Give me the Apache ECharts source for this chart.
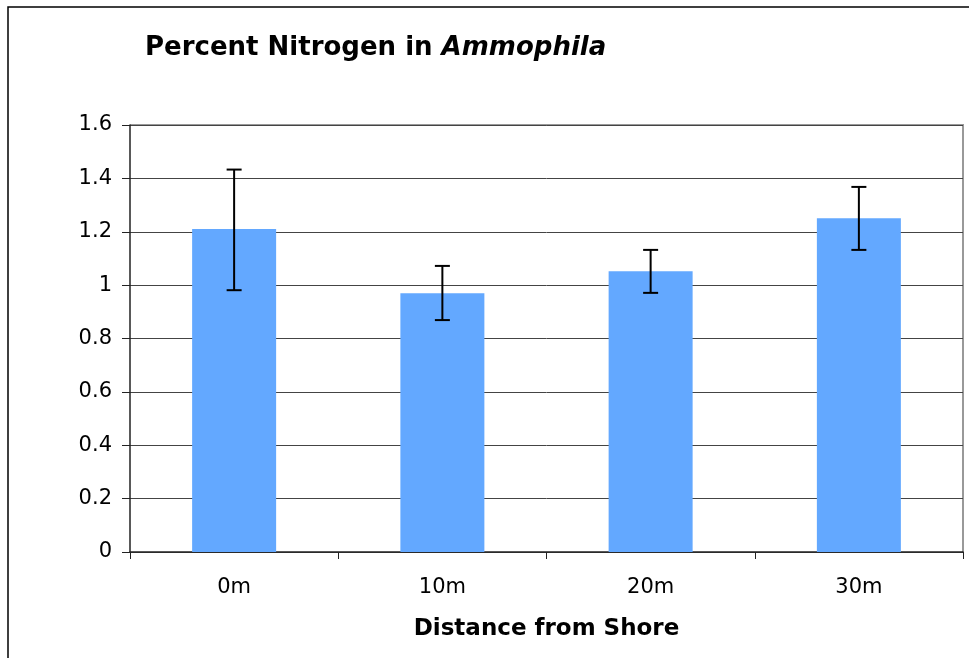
<!DOCTYPE html>
<html>
<head>
<meta charset="utf-8">
<script src="https://cdn.jsdelivr.net/npm/echarts@6/dist/echarts.min.js"></script>
<style>
  html, body { margin: 0; padding: 0; background: #fff; }
  #main { width: 969px; height: 658px; }
</style>
</head>
<body>
<div id="main"></div>
<script>
var categories = ['0m', '10m', '20m', '30m'];
var nitrogen = [1.21, 0.97, 1.052, 1.251];
var errLow = [0.981, 0.869, 0.971, 1.132];
var errHigh = [1.433, 1.072, 1.132, 1.368];
var yTicks = { min: 0, max: 1.6, step: 0.2 };

var chart = echarts.init(document.getElementById('main'));

// error bar rows: [category index, low, high]
var errData = categories.map(function (c, i) {
  return [i, errLow[i], errHigh[i]];
});

function renderErr(params, api) {
  var x = api.value(0);
  var lo = api.coord([x, api.value(1)]);
  var hi = api.coord([x, api.value(2)]);
  var half = 7.5;
  var st = { stroke: '#000', lineWidth: 2 };
  return {
    type: 'group',
    children: [
      { type: 'line', shape: { x1: hi[0], y1: hi[1], x2: lo[0], y2: lo[1] }, style: st },
      { type: 'line', shape: { x1: hi[0] - half, y1: hi[1], x2: hi[0] + half, y2: hi[1] }, style: st },
      { type: 'line', shape: { x1: lo[0] - half, y1: lo[1], x2: lo[0] + half, y2: lo[1] }, style: st }
    ]
  };
}

var option = {
  animation: false,
  textStyle: { fontFamily: 'DejaVu Sans, Verdana, sans-serif' },
  title: {
    text: '{b|Percent Nitrogen in }{i|Ammophila}',
    left: 140,
    top: 30,
    textStyle: {
      rich: {
        b: { fontSize: 26, fontWeight: 'bold', color: '#000', fontFamily: 'DejaVu Sans' },
        i: { fontSize: 26, fontWeight: 'bold', fontStyle: 'italic', color: '#000', fontFamily: 'DejaVu Sans' }
      }
    }
  },
  graphic: [
    { type: 'rect', shape: { x: 8, y: 7, width: 1200, height: 1000 }, style: { fill: 'none', stroke: '#000', lineWidth: 1.5 }, silent: true },
    { type: 'polyline', shape: { points: [[130, 125], [963, 125], [963, 552]] }, style: { fill: 'none', stroke: '#999', lineWidth: 2 }, silent: true }
  ],
  grid: { left: 130, right: 6, top: 125, bottom: 106 },
  xAxis: {
    type: 'category',
    data: categories,
    boundaryGap: true,
    name: 'Distance from Shore',
    nameLocation: 'middle',
    nameGap: 66,
    nameTextStyle: { fontSize: 23, fontWeight: 'bold', color: '#000' },
    axisLine: { lineStyle: { color: '#222', width: 1.5 } },
    axisTick: { show: true, length: 7, lineStyle: { color: '#222' } },
    axisLabel: { fontSize: 21, color: '#000', margin: 25 }
  },
  yAxis: {
    type: 'value',
    min: yTicks.min,
    max: yTicks.max,
    interval: yTicks.step,
    axisLine: { show: true, lineStyle: { color: '#222', width: 1.5 } },
    axisTick: { show: true, length: 8, lineStyle: { color: '#222' } },
    axisLabel: { fontSize: 21, color: '#000', margin: 18 },
    splitLine: { lineStyle: { color: '#444', width: 1 } }
  },
  series: [
    {
      type: 'bar',
      data: nitrogen,
      barWidth: 84,
      itemStyle: { color: '#63A8FF' }
    },
    {
      type: 'custom',
      renderItem: renderErr,
      data: errData,
      encode: { x: 0, y: [1, 2] },
      z: 5
    }
  ]
};

chart.setOption(option);
</script>
</body>
</html>
